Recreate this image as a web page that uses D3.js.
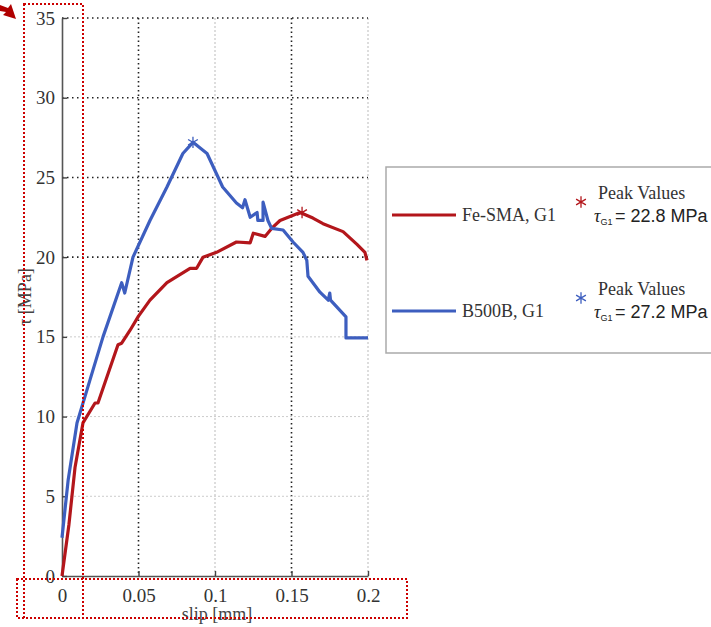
<!DOCTYPE html>
<html>
<head>
<meta charset="utf-8">
<script src="https://cdn.jsdelivr.net/npm/d3@7"></script>
<style>
  body { margin: 0; background: #fff; }
  svg { display: block; }
</style>
</head>
<body>
<div id="chart"></div>
<script>
// slip [mm] / bond stress [MPa]
var feSlip = [0, 0.0045, 0.0085, 0.0137, 0.0216, 0.0235, 0.0366, 0.039, 0.0444, 0.05, 0.0575, 0.0686, 0.0837, 0.088, 0.0922, 0.101, 0.114, 0.123, 0.125, 0.1327, 0.137, 0.1425, 0.1556, 0.164, 0.1706, 0.1837, 0.1928, 0.198, 0.1993];
var feTau  = [0, 3.2, 6.8, 9.6, 10.85, 10.85, 14.5, 14.6, 15.4, 16.3, 17.3, 18.4, 19.3, 19.3, 20.0, 20.3, 20.95, 20.9, 21.5, 21.3, 21.8, 22.3, 22.8, 22.45, 22.1, 21.6, 20.8, 20.3, 19.8];

var bSlip = [0, 0.004, 0.0098, 0.0183, 0.0268, 0.039, 0.041, 0.0464, 0.0575, 0.0686, 0.079, 0.0856, 0.0948, 0.105, 0.114, 0.118, 0.1196, 0.123, 0.1275, 0.128, 0.1314, 0.1314, 0.1346, 0.137, 0.1445, 0.151, 0.1575, 0.16, 0.1608, 0.1686, 0.174, 0.175, 0.1755, 0.1856, 0.1856, 0.2];
var bTau  = [2.4, 6.0, 9.6, 12.3, 15.0, 18.4, 17.75, 20.0, 22.3, 24.4, 26.5, 27.2, 26.5, 24.4, 23.4, 23.1, 23.6, 22.5, 22.8, 22.3, 22.3, 23.45, 22.3, 21.8, 21.7, 20.95, 20.3, 19.8, 18.8, 17.8, 17.3, 17.75, 17.3, 16.25, 14.93, 14.93];

var peakSlip = [0.1569, 0.0856];
var peakTau  = [22.8, 27.2];

var seriesNames = ["Fe-SMA, G1", "B500B, G1"];
var seriesColors = ["#b3161b", "#3d5ebf"];
var peakLabels = ["22.8 MPa", "27.2 MPa"];

var xTicks = [0, 0.05, 0.1, 0.15, 0.2];
var yTicks = [0, 5, 10, 15, 20, 25, 30, 35];

var svgWidth = 711, svgHeight = 627;

var svg = d3.select("#chart")
            .append("svg")
            .attr("width", svgWidth)
            .attr("height", svgHeight);

var xScale = d3.scaleLinear().domain([0, 0.2]).range([62, 368]);
var yScale = d3.scaleLinear().domain([0, 35]).range([576, 18]);

var serif = "'Liberation Serif', 'Times New Roman', serif";

// grid lines, dotted
var darkV = [0.05, 0.15];
svg.append("g").selectAll("line")
   .data(xTicks.slice(1))
   .enter()
   .append("line")
   .attr("x1", d => xScale(d)).attr("x2", d => xScale(d))
   .attr("y1", yScale(35)).attr("y2", yScale(0))
   .attr("stroke", d => darkV.indexOf(d) >= 0 ? "#222" : "#bbb")
   .attr("stroke-width", d => darkV.indexOf(d) >= 0 ? 1.6 : 1)
   .attr("stroke-dasharray", d => darkV.indexOf(d) >= 0 ? "1.5,3" : "2,2");

svg.append("g").selectAll("line")
   .data(yTicks.slice(1))
   .enter()
   .append("line")
   .attr("x1", xScale(0)).attr("x2", xScale(0.2))
   .attr("y1", d => yScale(d)).attr("y2", d => yScale(d))
   .attr("stroke", d => d >= 20 ? "#222" : "#ccc")
   .attr("stroke-width", d => d >= 20 ? 1.6 : 1)
   .attr("stroke-dasharray", d => d >= 20 ? "1.5,3.5" : "2,2");

// axes
var xAxis = d3.axisBottom(xScale).tickValues(xTicks).tickSizeInner(-5).tickSizeOuter(0)
              .tickPadding(13).tickFormat(d => d === 0 ? "0" : d3.format("")(d));
var yAxis = d3.axisLeft(yScale).tickValues(yTicks).tickSizeInner(-5).tickSizeOuter(0)
              .tickPadding(7);

var gx = svg.append("g")
            .attr("transform", `translate(0, ${yScale(0)})`)
            .call(xAxis);
var gy = svg.append("g")
            .attr("transform", `translate(${xScale(0)}, 0)`)
            .call(yAxis);

[gx, gy].forEach(function(g) {
    g.attr("font-family", serif).attr("font-size", 19);
    g.select(".domain").attr("stroke", "#555").attr("stroke-width", 1.6);
    g.selectAll(".tick line").attr("stroke", "#444").attr("stroke-width", 1.4);
    g.selectAll(".tick text")
     .style("font-family", serif)
     .style("font-size", "19px")
     .attr("fill", "#333");
});

// axis labels
svg.append("text")
   .attr("x", 217)
   .attr("y", 620)
   .attr("text-anchor", "middle")
   .style("font-family", serif)
   .style("font-size", "18px")
   .attr("fill", "#444")
   .text("slip [mm]");

svg.append("text")
   .attr("transform", "translate(31, 297) rotate(-90)")
   .attr("text-anchor", "middle")
   .style("font-family", serif)
   .style("font-size", "18px")
   .attr("fill", "#444")
   .text("τ [MPa]");

// curves
var line = d3.line()
             .x(d => xScale(d[0]))
             .y(d => yScale(d[1]));

var curves = [d3.zip(feSlip, feTau), d3.zip(bSlip, bTau)];

svg.append("g").selectAll("path")
   .data(curves)
   .enter()
   .append("path")
   .attr("d", line)
   .attr("fill", "none")
   .attr("stroke", (d, i) => seriesColors[i])
   .attr("stroke-width", 3.2)
   .attr("stroke-linejoin", "round");

// peak stars
var star = d3.symbol().type(d3.symbolAsterisk).size(90);
svg.append("g").selectAll("path")
   .data(d3.zip(peakSlip, peakTau))
   .enter()
   .append("path")
   .attr("d", star)
   .attr("transform", d => `translate(${xScale(d[0])}, ${yScale(d[1])})`)
   .attr("fill", "none")
   .attr("stroke", (d, i) => seriesColors[i])
   .attr("stroke-width", 1.3);

// legend
var legend = svg.append("g");
legend.append("rect")
      .attr("x", 386).attr("y", 167)
      .attr("width", 400).attr("height", 186)
      .attr("fill", "#fff")
      .attr("stroke", "#aaa")
      .attr("stroke-width", 1.5);

var legendY = [215, 311];
seriesNames.forEach(function(name, i) {
    var yy = legendY[i];
    legend.append("line")
          .attr("x1", 392).attr("x2", 456)
          .attr("y1", yy).attr("y2", yy)
          .attr("stroke", seriesColors[i])
          .attr("stroke-width", 3.2);
    legend.append("text")
          .attr("x", 462).attr("y", yy + 6)
          .style("font-family", serif)
          .style("font-size", "18px")
          .attr("fill", "#333")
          .text(name);
    legend.append("path")
          .attr("d", star)
          .attr("transform", `translate(581, ${yy - 13})`)
          .attr("fill", "none")
          .attr("stroke", seriesColors[i])
          .attr("stroke-width", 1.3);
    legend.append("text")
          .attr("x", 598).attr("y", yy - 16)
          .style("font-family", serif)
          .style("font-size", "18px")
          .attr("fill", "#333")
          .text("Peak Values");
    var t = legend.append("text")
          .attr("x", 594).attr("y", yy + 7)
          .style("font-family", "'Liberation Sans', Arial, sans-serif")
          .style("font-size", "18px")
          .attr("fill", "#222");
    t.append("tspan").attr("font-style", "italic").style("font-family", serif).text("τ");
    t.append("tspan").style("font-size", "9px").attr("dy", 3).text("G1");
    t.append("tspan").attr("x", 615).attr("dy", -3).text("= " + peakLabels[i]);
});

// red dotted annotation boxes and arrow
var note = svg.append("g")
              .attr("fill", "none")
              .attr("stroke", "#cc0000")
              .attr("stroke-width", 2)
              .attr("stroke-dasharray", "2,2");
note.append("rect").attr("x", 24).attr("y", 4).attr("width", 59).attr("height", 614);
note.append("rect").attr("x", 17).attr("y", 579).attr("width", 390).attr("height", 39);

svg.append("path")
   .attr("d", "M0,5 L8,8 L11,4 L16,19 L3,15 L6,12 L0,11 Z")
   .attr("fill", "#b00000");
</script>
</body>
</html>
